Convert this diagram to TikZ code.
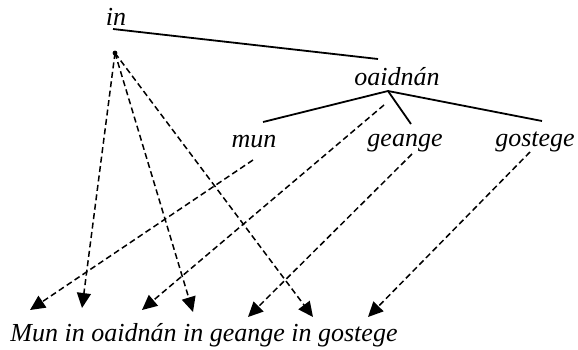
\documentclass[tikz,border=0pt]{standalone}
\usepackage{fontspec}
\setmainfont{Liberation Serif}
\usetikzlibrary{arrows.meta,positioning,calc}

\tikzset{
    word/.style={font=\fontsize{26}{31}\selectfont\itshape, inner sep=0pt, anchor=base},
    branch/.style={line width=1.8pt},
    link/.style={line width=1.5pt, dash pattern=on 6pt off 3.5pt,
        -{Triangle[length=15pt,width=14pt]}}
}

\begin{document}
\begin{tikzpicture}[x=1pt,y=-1pt]
    \useasboundingbox (0,0) rectangle (578,349);

    % Words of the tree
    \node[word] (inw) at (116,25) {in};
    \node[word] (oaid) at (397,85) {oaidnán};
    \node[word] (mun) at (254,147) {mun};
    \node[word] (geange) at (405,146) {geange};
    \node[word] (gostege) at (535,146) {gostege};

    % Sentence
    \node[word] (sent) at (204,341) {Mun in oaidnán in geange in gostege};

    % Branch ends
    \coordinate (inFoot) at (113,29);
    \coordinate (oaidTop) at (378,59);
    \coordinate (oaidFoot) at (388,91);
    \coordinate (munTop) at (263,122);
    \coordinate (geangeTop) at (411,124);
    \coordinate (gostegeTop) at (542,121);

    % Tree lines
    \draw[branch] (inFoot) -- (oaidTop);
    \draw[branch] (munTop) -- (oaidFoot) -- (gostegeTop);
    \draw[branch] (oaidFoot) -- (geangeTop);

    % Starts of the links
    \coordinate (inDot) at (115,53);
    \coordinate (munFrom) at (253,160);
    \coordinate (oaidFrom) at (384,105);
    \coordinate (geangeFrom) at (412,154);
    \coordinate (gostegeFrom) at (530,152);
    \fill (inDot) circle (2.4pt);

    % Word positions in the sentence
    \coordinate (t1) at (30,310);
    \coordinate (t2) at (82,308);
    \coordinate (t3) at (142,310);
    \coordinate (t4) at (193,312);
    \coordinate (t5) at (248,317);
    \coordinate (t6) at (313,317);
    \coordinate (t7) at (368,317);

    % Links
    \draw[link] (munFrom) -- (t1);
    \draw[link] (inDot) -- (t2);
    \draw[link] (oaidFrom) -- (t3);
    \draw[link] (inDot) -- (t4);
    \draw[link] (geangeFrom) -- (t5);
    \draw[link] (inDot) -- (t6);
    \draw[link] (gostegeFrom) -- (t7);
\end{tikzpicture}
\end{document}
